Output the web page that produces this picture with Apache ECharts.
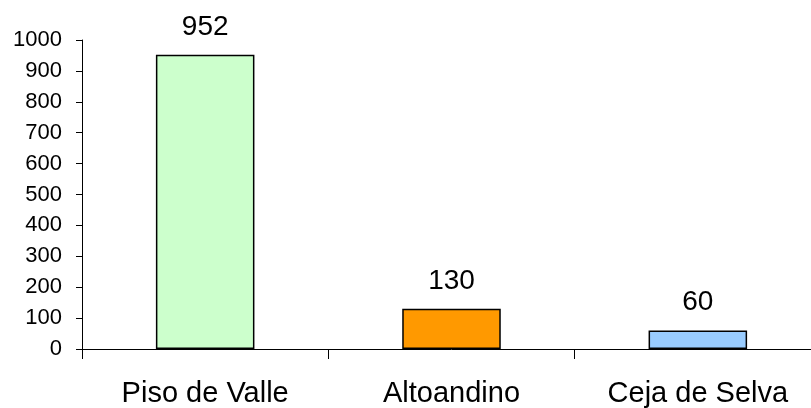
<!DOCTYPE html>
<html><head><meta charset="utf-8">
<script src="https://cdn.jsdelivr.net/npm/echarts@6/dist/echarts.min.js"></script>
<style>html,body{margin:0;padding:0;background:#fff;overflow:hidden;width:811px;height:408px}#c{width:830px;height:408px}</style>
</head><body><div id="c"></div>
<script>
const categories = ['Piso de Valle', 'Altoandino', 'Ceja de Selva'];
const values = [952, 130, 60];
const barColors = ['#CCFFCC', '#FF9900', '#99CCFF'];
const yTicks = [0, 100, 200, 300, 400, 500, 600, 700, 800, 900, 1000];

const chart = echarts.init(document.getElementById('c'));
chart.setOption({
  animation: false,
  textStyle: { fontFamily: 'Liberation Sans, Arial, sans-serif' },
  grid: { left: 82, top: 40, width: 739, height: 309 },
  xAxis: {
    type: 'category',
    data: categories,
    axisLine: { lineStyle: { color: '#000', width: 1 } },
    axisTick: { show: true, alignWithLabel: false, length: 10, lineStyle: { color: '#000' } },
    axisLabel: { color: '#000', fontSize: 29, margin: 30, fontFamily: 'Liberation Sans, Arial' }
  },
  yAxis: {
    type: 'value',
    min: yTicks[0], max: yTicks[yTicks.length - 1], interval: 100,
    splitLine: { show: false },
    axisLine: { show: true, lineStyle: { color: '#000', width: 1 } },
    axisTick: { show: true, length: 6, lineStyle: { color: '#000' } },
    axisLabel: { color: '#000', fontSize: 22, margin: 20, formatter: v => String(v), fontFamily: 'Liberation Sans, Arial' }
  },
  series: [{
    type: 'bar',
    barWidth: '40%',
    data: values.map((v, i) => ({ value: v, itemStyle: { color: barColors[i] } })),
    itemStyle: { borderColor: '#000', borderWidth: 1.5 },
    label: { show: true, position: 'top', distance: 14, color: '#000', fontSize: 28, fontFamily: 'Liberation Sans, Arial' }
  }]
});
</script></body></html>
